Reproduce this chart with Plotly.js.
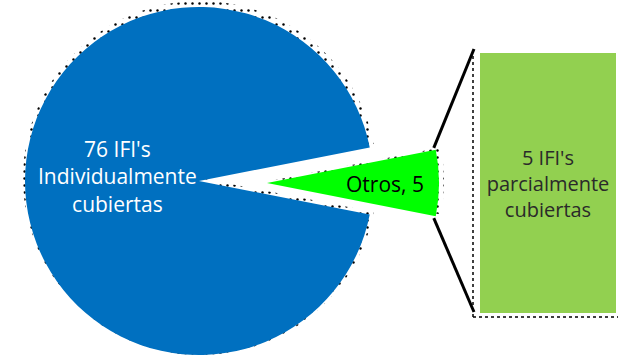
<!DOCTYPE html>
<html>
<head>
<meta charset="utf-8">
<script src="https://cdn.plot.ly/plotly-3.0.1.min.js"></script>
<style>html,body{margin:0;padding:0;background:#fff;}#chart{width:618px;height:355px;}</style>
</head>
<body>
<div id="chart"></div>
<script>
// ---- data ----
const pieLabels = ["Individualmente cubiertas", "Otros"];
const pieValues = [76, 5];
const barLabels = ["parcialmente cubiertas"];
const barValues = [5];
const unitLabel = "IFI's";

// ---- geometry (pixels) ----
const W = 618, H = 355;
const blue = {cx: 199, cy: 181, r: 174};
const blueShadow = {cx: 200, cy: 178, r: 177};
const green = {cx: 267, cy: 183, r: 172};
const greenShadow = {cx: 270, cy: 181, r: 174};
const barBox = {x0: 480, x1: 616, y0: 53, y1: 313};

function dom(c) {
  return {
    x: [(c.cx - c.r) / W, (c.cx + c.r) / W],
    y: [Math.max(0, (H - c.cy - c.r) / H), Math.min(1, (H - c.cy + c.r) / H)]
  };
}
const total = pieValues.reduce((a, b) => a + b, 0);
const otherIdx = 1;
const before = pieValues.slice(0, otherIdx).reduce((a, b) => a + b, 0);
const rotation = 90 - 360 * (before + pieValues[otherIdx] / 2) / total;
const halfAng = Math.PI * pieValues[otherIdx] / total;

const common = {type: 'pie', labels: pieLabels, values: pieValues, sort: false,
  direction: 'clockwise', rotation: rotation, textinfo: 'none', hoverinfo: 'skip', showlegend: false};

const traces = [
  Object.assign({}, common, {domain: dom(blueShadow),
    marker: {colors: ['white', 'rgba(0,0,0,0)'], line: {width: 0},
      pattern: {shape: ['.', ''], fgcolor: '#000', bgcolor: 'white', size: 7, solidity: 0.1}}}),
  Object.assign({}, common, {domain: dom(blue),
    marker: {colors: ['#0070C0', 'rgba(0,0,0,0)'], line: {width: 0}}}),
  Object.assign({}, common, {domain: dom(greenShadow),
    marker: {colors: ['rgba(0,0,0,0)', 'white'], line: {width: 0},
      pattern: {shape: ['', '.'], fgcolor: '#000', bgcolor: 'white', size: 7, solidity: 0.1}}}),
  Object.assign({}, common, {domain: dom(green),
    marker: {colors: ['rgba(0,0,0,0)', '#00FF00'], line: {width: 0}}}),
  {type: 'bar', x: barLabels, y: barValues, xaxis: 'x', yaxis: 'y',
    marker: {color: '#92D050', line: {width: 0}},
    text: [barValues[0] + ' ' + unitLabel + '<br>parcialmente<br>cubiertas'],
    textposition: 'inside', insidetextanchor: 'middle', textangle: 0,
    textfont: {family: 'Open Sans', size: 20, color: '#2a2a2a'},
    hoverinfo: 'skip', showlegend: false}
];

// connector lines from slice corners to bar corners
const tipX = green.cx + green.r * Math.cos(halfAng);
const tipTop = green.cy - green.r * Math.sin(halfAng);
const tipBot = green.cy + green.r * Math.sin(halfAng);
const px = v => v / W, py = v => 1 - v / H;

const shapes = [
  {type: 'line', xref: 'paper', yref: 'paper', x0: px(tipX - 2), y0: py(tipTop - 2), x1: px(barBox.x0 - 6), y1: py(barBox.y0 - 4),
    line: {color: '#000', width: 3}},
  {type: 'line', xref: 'paper', yref: 'paper', x0: px(tipX - 2), y0: py(tipBot + 2), x1: px(barBox.x0 - 6), y1: py(barBox.y1 - 1),
    line: {color: '#000', width: 3}},
  {type: 'line', xref: 'paper', yref: 'paper', x0: px(barBox.x0 - 7), y0: py(barBox.y0 - 3), x1: px(barBox.x0 - 7), y1: py(barBox.y1 + 4),
    line: {color: '#000', width: 1.5, dash: 'dot'}},
  {type: 'line', xref: 'paper', yref: 'paper', x0: px(barBox.x0 - 7), y0: py(barBox.y1 + 4), x1: px(W), y1: py(barBox.y1 + 4),
    line: {color: '#000', width: 1.5, dash: 'dot'}}
];

const annotations = [
  {xref: 'paper', yref: 'paper', x: px(117), y: py(176), xanchor: 'center', yanchor: 'middle', showarrow: false,
    text: pieValues[0] + ' ' + unitLabel + '<br>Individualmente<br>cubiertas',
    font: {family: 'Open Sans', size: 21, color: '#ffffff'}, align: 'center'},
  {xref: 'paper', yref: 'paper', x: px(385), y: py(184), xanchor: 'center', yanchor: 'middle', showarrow: false,
    text: pieLabels[otherIdx] + ', ' + pieValues[otherIdx],
    font: {family: 'Open Sans', size: 21, color: '#000000'}, align: 'center'}
];

const layout = {
  width: W, height: H, margin: {l: 0, r: 0, t: 0, b: 0},
  paper_bgcolor: '#fff', plot_bgcolor: 'rgba(0,0,0,0)',
  hovermode: false, showlegend: false, bargap: 0,
  xaxis: {domain: [barBox.x0 / W, barBox.x1 / W], range: [-0.5, 0.5], visible: false, fixedrange: true},
  yaxis: {domain: [(H - barBox.y1) / H, (H - barBox.y0) / H], range: [0, barValues[0]], visible: false, fixedrange: true},
  shapes: shapes, annotations: annotations,
  font: {family: 'Open Sans'}
};

Plotly.newPlot('chart', traces, layout, {staticPlot: true, displayModeBar: false});
</script>
</body>
</html>
